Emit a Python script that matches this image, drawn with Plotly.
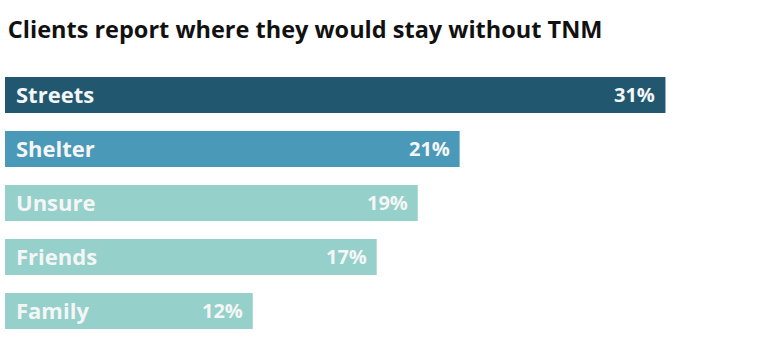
import plotly.graph_objects as go

categories = ["Streets", "Shelter", "Unsure", "Friends", "Family"]
values = [30.74, 21.16, 19.21, 17.30, 11.53]
value_labels = ["31%", "21%", "19%", "17%", "12%"]
colors = ["#22586F", "#4A99B8", "#96D0CA", "#96D0CA", "#96D0CA"]

FONT = "Open Sans"

fig = go.Figure()
fig.add_trace(go.Bar(
    x=values, y=categories, orientation="h",
    marker=dict(color=colors, line=dict(width=0)),
    width=0.667, hoverinfo="skip",
))

for c, v, lab in zip(categories, values, value_labels):
    fig.add_annotation(x=0, y=c, xref="x", yref="y", text="<b>%s</b>" % c,
                       xanchor="left", yanchor="middle", xshift=9, yshift=1, showarrow=False,
                       font=dict(family=FONT, size=22, color="#F4F6F6"))
    fig.add_annotation(x=v, y=c, xref="x", yref="y", text="<b>%s</b>" % lab,
                       xanchor="right", yanchor="middle", xshift=-8, yshift=1, showarrow=False,
                       font=dict(family=FONT, size=20, color="#F4F6F6"))

fig.update_layout(
    width=782, height=360,
    margin=dict(l=5, r=25, t=68, b=22),
    paper_bgcolor="white", plot_bgcolor="white",
    showlegend=False,
    title=dict(text="<b>Clients report where they would stay without TNM</b>",
               x=0.01, xanchor="left", y=0.918, yanchor="middle",
               font=dict(family=FONT, size=23.5, color="#111111")),
    xaxis=dict(range=[0, 35], visible=False, fixedrange=True),
    yaxis=dict(categoryorder="array", categoryarray=categories, autorange="reversed",
               visible=False, fixedrange=True),
)

fig.write_html("out.html", config={"displayModeBar": False},
               post_script="document.body.style.margin='0';")
